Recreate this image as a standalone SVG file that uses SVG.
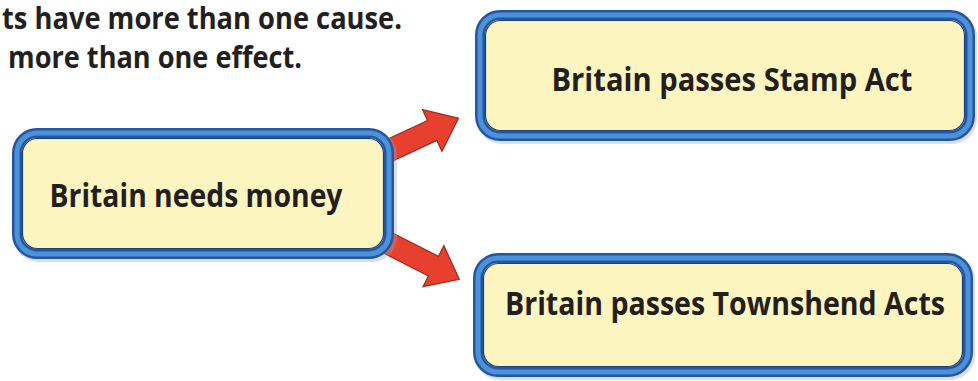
<svg xmlns="http://www.w3.org/2000/svg" width="978" height="381" viewBox="0 0 978 381">
  <defs>
    <style>
      .hdr { font-family: "Open Sans", Lato, "Liberation Sans", sans-serif; font-weight: 700; font-size: 30px; fill: #231f20; }
      .lbl { font-family: "Open Sans", Lato, "Liberation Sans", sans-serif; font-weight: 700; font-size: 33px; fill: #231f20; }
      .box-shadow { fill: none; stroke: #9aa4b4; stroke-width: 10; opacity: 0.35; }
      .box-outer { fill: #fcf5bf; stroke: #2457a3; stroke-width: 10; }
      .box-inner { fill: none; stroke: #4d92d8; stroke-width: 5; }
      .box-line { fill: none; stroke: #1c3f7e; stroke-width: 1.2; }
      .arrow { fill: #e8402e; stroke: #9c2a1c; stroke-width: 1.2; stroke-linejoin: miter; }
    </style>
    <polygon id="arrowShape" points="0,-11 51,-11 51,-23 80,0 51,23 51,11 0,11"/>
  </defs>

  <rect width="978" height="381" fill="#ffffff"/>

  <g id="header">
    <text class="hdr" x="2" y="29" textLength="400" lengthAdjust="spacingAndGlyphs">ts have more than one cause.</text>
    <text class="hdr" x="8" y="68" textLength="294" lengthAdjust="spacingAndGlyphs">more than one effect.</text>
  </g>

  <g id="connectors">
    <use href="#arrowShape" class="arrow" transform="translate(386,152) rotate(-25)"/>
    <use href="#arrowShape" class="arrow" transform="translate(388,243) rotate(27)"/>
  </g>

  <g id="node-needs-money">
    <rect class="box-shadow" x="19" y="135" width="373" height="122" rx="20"/>
    <rect class="box-outer" x="17" y="133" width="372" height="121" rx="20"/>
    <rect class="box-inner" x="17" y="133" width="372" height="121" rx="20"/>
    <rect class="box-line" x="22.5" y="138.5" width="361" height="110" rx="15"/>
    <text class="lbl" x="196" y="207" text-anchor="middle" textLength="293" lengthAdjust="spacingAndGlyphs">Britain needs money</text>
  </g>

  <g id="node-stamp-act">
    <rect class="box-shadow" x="482" y="17" width="490" height="122" rx="20"/>
    <rect class="box-outer" x="480" y="15" width="490" height="121" rx="20"/>
    <rect class="box-inner" x="480" y="15" width="490" height="121" rx="20"/>
    <rect class="box-line" x="485.5" y="20.5" width="479" height="110" rx="15"/>
    <text class="lbl" x="732" y="91" text-anchor="middle" textLength="361" lengthAdjust="spacingAndGlyphs">Britain passes Stamp Act</text>
  </g>

  <g id="node-townshend">
    <rect class="box-shadow" x="480" y="260" width="490" height="115" rx="20"/>
    <rect class="box-outer" x="478" y="258" width="490" height="114" rx="20"/>
    <rect class="box-inner" x="478" y="258" width="490" height="114" rx="20"/>
    <rect class="box-line" x="483.5" y="263.5" width="479" height="103" rx="15"/>
    <text class="lbl" x="725" y="315" text-anchor="middle" textLength="440" lengthAdjust="spacingAndGlyphs">Britain passes Townshend Acts</text>
  </g>
</svg>
